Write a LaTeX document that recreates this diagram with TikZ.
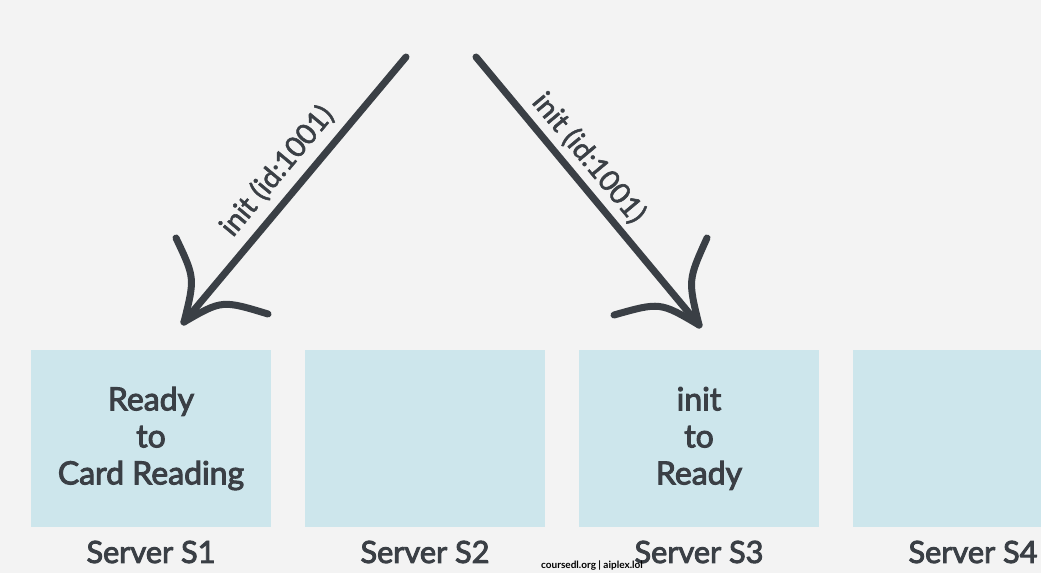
\documentclass[tikz,border=0pt]{standalone}
\usepackage{fontspec}
\setmainfont{Lato}
\newfontfamily\medfont{Lato}[FakeBold=3]
\newfontfamily\lblfont{Lato}[FakeBold=2]
\definecolor{bg}{HTML}{F3F3F3}
\definecolor{boxc}{HTML}{CDE6EC}
\definecolor{ink}{HTML}{3A3F45}
\begin{document}
\begin{tikzpicture}[x=0.75pt,y=-0.75pt,
  srv/.style={fill=boxc,draw=none,minimum width=180pt,minimum height=132.75pt,inner sep=0pt,
    align=center,text=ink,font=\medfont\fontsize{24}{27.75}\selectfont},
  srvlabel/.style={text=ink,font=\medfont\fontsize{23}{27}\selectfont,inner sep=0pt},
  arr/.style={draw=ink,line width=5.25pt,line cap=round,line join=round},
  arrlabel/.style={text=ink,font=\lblfont\fontsize{21.5}{24}\selectfont,inner sep=0pt}]
\fill[bg] (0,0) rectangle (1041,573);
\useasboundingbox (0,0) rectangle (1041,573);
% boxes
\node[srv] (s1) at (151,438.5) {Ready\\to\\Card Reading};
\node[srv] (s2) at (425,438.5) {};
\node[srv] (s3) at (699,438.5) {init\\to\\Ready};
\begin{scope}
\clip (0,0) rectangle (1041,573);
\node[srv] (s4) at (973,438.5) {};
\end{scope}
\node[srvlabel] (l1) at (151,552) {Server S1};
\node[srvlabel] (l2) at (425,552) {Server S2};
\node[srvlabel] (l3) at (699,552) {Server S3};
\node[srvlabel] (l4) at (973,552) {Server S4};
% left arrow
\coordinate (a1s) at (406,57);
\coordinate (a1t) at (184,322);
\coordinate (a1b1) at (176,238);
\coordinate (a1b2) at (268,314);
\draw[arr] (a1s) -- (a1t);
\draw[arr] (a1b1) .. controls (195,278) .. (a1t);
\draw[arr] (a1b2) .. controls (222,300) .. (a1t);
\node[arrlabel,rotate=50.2] (t1) at (277,171) {init (id:1001)};
% right arrow
\coordinate (a2s) at (476,57);
\coordinate (a2t) at (699,325);
\coordinate (a2b1) at (707,238);
\coordinate (a2b2) at (614,315);
\draw[arr] (a2s) -- (a2t);
\draw[arr] (a2b1) .. controls (688,280) .. (a2t);
\draw[arr] (a2b2) .. controls (660,302) .. (a2t);
\node[arrlabel,rotate=-50.2] (t2) at (589,158) {init (id:1001)};
% watermark
\node[font=\fontsize{7.5}{9}\selectfont\bfseries,inner sep=0pt] (wm) at (592,566) {coursedl.org | aiplex.lol};
\end{tikzpicture}
\end{document}
